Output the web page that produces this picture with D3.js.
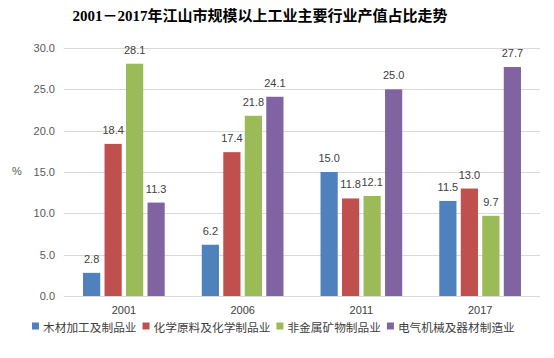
<!DOCTYPE html>
<html><head><meta charset="utf-8">
<script src="https://cdn.jsdelivr.net/npm/d3@7"></script>
<style>body{margin:0;background:#fff}svg{display:block}</style>
</head><body><svg id="c" width="554" height="358"></svg>
<script>
const years = ["2001","2006","2011","2017"];
const seriesNames = ["木材加工及制品业","化学原料及化学制品业","非金属矿物制品业","电气机械及器材制造业"];
const wood = [2.8, 6.2, 15.0, 11.5];
const chem = [18.4, 17.4, 11.8, 13.0];
const mineral = [28.1, 21.8, 12.1, 9.7];
const elec = [11.3, 24.1, 25.0, 27.7];
const yTicks = [0,5,10,15,20,25,30];
const colors = ["#4F81BD","#C0504D","#9BBB59","#8064A2"];
const title = "2001－2017年江山市规模以上工业主要行业产值占比走势";

const series = [wood, chem, mineral, elec];
const svg = d3.select("#c");
const sans = "'Liberation Sans','Noto Sans CJK SC',sans-serif";

const x = d3.scaleBand().domain(years).range([64.5, 539.5]).paddingInner(0.312).paddingOuter(0.156);
const xs = d3.scaleBand().domain(d3.range(4)).range([0, x.bandwidth()]).paddingInner(0.2);
const y = d3.scaleLinear().domain([0,30]).range([296, 48]);

// title
svg.append("text").attr("x", 260).attr("y", 21).attr("text-anchor","middle")
  .style("font-family","'Liberation Serif','Noto Sans CJK SC',serif").style("font-weight","bold")
  .style("font-size","15px").attr("fill","#000").text(title);

// grid
const yAxis = d3.axisLeft(y).tickValues(yTicks).tickFormat(d3.format(".1f")).tickSize(-(539.5-64)).tickPadding(9);
const ga = svg.append("g").attr("transform","translate(64,0)").call(yAxis);
ga.select(".domain").remove();
ga.selectAll(".tick line").attr("stroke","#D9D9D9").attr("stroke-width",1).attr("shape-rendering","crispEdges");
ga.selectAll(".tick text").attr("fill","#595959").style("font-family",sans).style("font-size","11px");

svg.append("text").attr("x", 17).attr("y", 175).attr("text-anchor","middle")
  .attr("fill","#595959").style("font-family",sans).style("font-size","11px").text("%");

// x axis labels
const xAxis = d3.axisBottom(x).tickSize(0).tickPadding(10);
const gx = svg.append("g").attr("transform","translate(0,296)").call(xAxis);
gx.select(".domain").remove();
gx.selectAll(".tick text").attr("fill","#404040").style("font-family",sans).style("font-size","11px");

// bars
series.forEach((vals, si) => {
  const g = svg.append("g");
  g.selectAll("rect").data(vals).join("rect")
    .attr("x", (d,i) => x(years[i]) + xs(si))
    .attr("width", xs.bandwidth())
    .attr("y", d => y(d))
    .attr("height", d => y(0) - y(d))
    .attr("fill", colors[si]);
  g.selectAll("text").data(vals).join("text")
    .attr("x", (d,i) => x(years[i]) + xs(si) + xs.bandwidth()/2)
    .attr("y", d => y(d) - 10)
    .attr("text-anchor","middle")
    .attr("fill","#404040").style("font-family",sans).style("font-size","11px")
    .text(d => d3.format(".1f")(d));
});

// legend
const lg = svg.append("g").attr("transform","translate(32,327)");
let lx = 0;
seriesNames.forEach((n, i) => {
  lg.append("rect").attr("x", lx).attr("y", -4.5).attr("width", 7).attr("height", 7).attr("fill", colors[i]);
  const t = lg.append("text").attr("x", lx + 11).attr("y", 4.5)
    .attr("fill","#404040").style("font-family","'Noto Sans CJK SC',sans-serif").style("font-size","11.7px").text(n);
  lx += 11 + t.node().getComputedTextLength() + 6;
});
</script></body></html>
